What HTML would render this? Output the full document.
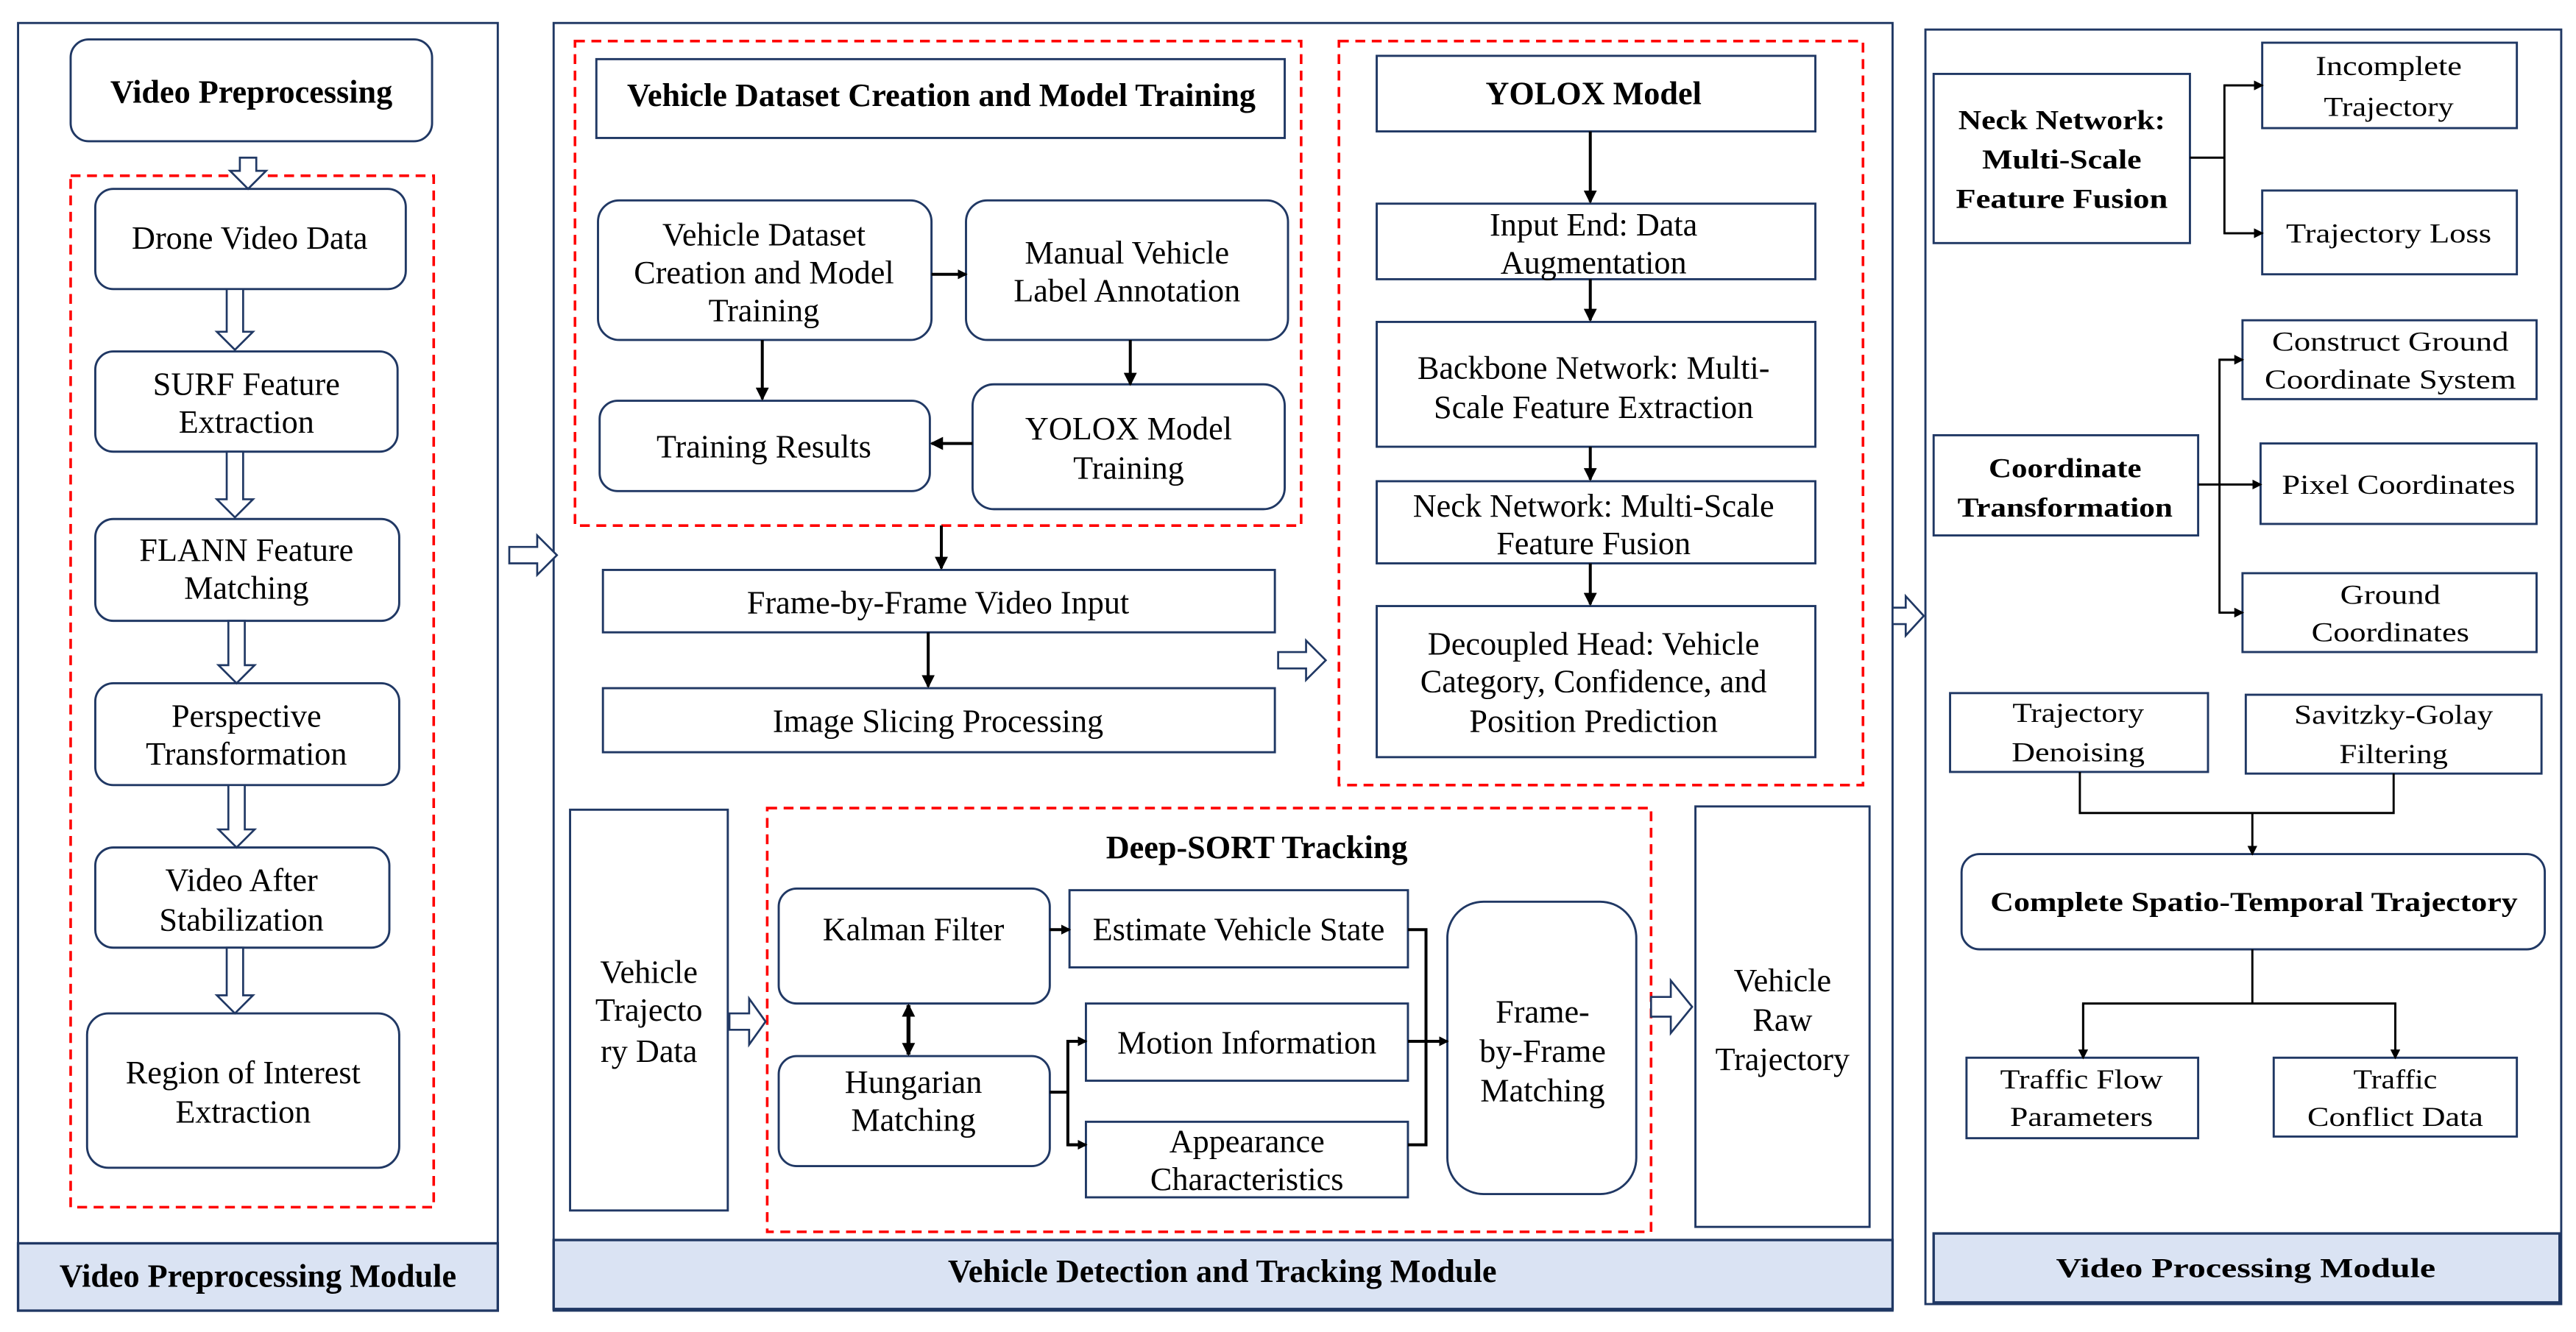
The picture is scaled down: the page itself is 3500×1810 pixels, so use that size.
<!DOCTYPE html>
<html><head><meta charset="utf-8"><style>
html,body{margin:0;padding:0;background:#fff;}
svg{display:block;}
text{font-family:"Liberation Serif",serif;fill:#000;}
</style></head><body>
<svg width="3500" height="1810" viewBox="0 0 1568 811" preserveAspectRatio="none" xmlns="http://www.w3.org/2000/svg">
<defs>
<marker id="ah" markerWidth="6" markerHeight="6" refX="5" refY="3" orient="auto" markerUnits="userSpaceOnUse"><path d="M0,0 L6,3 L0,6 z" fill="#000"/></marker>
<marker id="ah2" markerWidth="8" markerHeight="8" refX="7" refY="4" orient="auto" markerUnits="userSpaceOnUse"><path d="M0,0 L8,4 L0,8 z" fill="#000"/></marker>
<marker id="ahs" markerWidth="8" markerHeight="8" refX="1" refY="4" orient="auto" markerUnits="userSpaceOnUse"><path d="M8,0 L0,4 L8,8 z" fill="#000"/></marker>
</defs>
<g fill="none" stroke="#203864" stroke-width="1.3">
<rect x="11" y="14" width="292" height="784"/>
<rect x="337" y="14" width="815" height="784"/>
<rect x="1172" y="18" width="387" height="776"/>
</g>
<g fill="#dae3f3" stroke="#203864" stroke-width="1.5">
<rect x="11" y="757" width="292" height="41"/>
<rect x="337" y="755" width="815" height="42"/>
<rect x="1177" y="751" width="381" height="42"/>
</g>
<g fill="none" stroke="#ff0000" stroke-width="1.6" stroke-dasharray="6,4">
<rect x="43" y="107" width="221" height="628"/>
<rect x="350" y="25" width="442" height="295"/>
<rect x="815" y="25" width="319" height="453"/>
<rect x="467" y="492" width="538" height="258"/>
</g>
<g fill="#fff" stroke="#203864" stroke-width="1.3">
<rect x="43" y="24" width="220" height="62" rx="11"/>
<rect x="58" y="115" width="189" height="61" rx="11"/>
<rect x="58" y="214" width="184" height="61" rx="11"/>
<rect x="58" y="316" width="185" height="62" rx="11"/>
<rect x="58" y="416" width="185" height="62" rx="11"/>
<rect x="58" y="516" width="179" height="61" rx="11"/>
<rect x="53" y="617" width="190" height="94" rx="13"/>
<rect x="363" y="36" width="419" height="48"/>
<rect x="364" y="122" width="203" height="85" rx="13"/>
<rect x="588" y="122" width="196" height="85" rx="13"/>
<rect x="365" y="244" width="201" height="55" rx="11"/>
<rect x="592" y="234" width="190" height="76" rx="13"/>
<rect x="367" y="347" width="409" height="38"/>
<rect x="367" y="419" width="409" height="39"/>
<rect x="838" y="34" width="267" height="46"/>
<rect x="838" y="124" width="267" height="46"/>
<rect x="838" y="196" width="267" height="76"/>
<rect x="838" y="293" width="267" height="50"/>
<rect x="838" y="369" width="267" height="92"/>
<rect x="347" y="493" width="96" height="244"/>
<rect x="474" y="541" width="165" height="70" rx="11"/>
<rect x="651" y="542" width="206" height="47"/>
<rect x="474" y="643" width="165" height="67" rx="11"/>
<rect x="661" y="611" width="196" height="47"/>
<rect x="661" y="683" width="196" height="46"/>
<rect x="881" y="549" width="115" height="178" rx="22"/>
<rect x="1032" y="491" width="106" height="256"/>
<rect x="1177" y="45" width="156" height="103"/>
<rect x="1377" y="26" width="155" height="52"/>
<rect x="1377" y="116" width="155" height="51"/>
<rect x="1365" y="195" width="179" height="48"/>
<rect x="1177" y="265" width="161" height="61"/>
<rect x="1376" y="270" width="168" height="49"/>
<rect x="1365" y="349" width="179" height="48"/>
<rect x="1187" y="422" width="157" height="48"/>
<rect x="1367" y="423" width="180" height="48"/>
<rect x="1194" y="520" width="355" height="58" rx="11"/>
<rect x="1197" y="644" width="141" height="49"/>
<rect x="1384" y="644" width="148" height="48"/>
</g>
<g fill="#fff" stroke="#203864" stroke-width="1.2">
<path d="M146,96 h10 v8 h6 l-11,11 l-11,-11 h6 z"/>
<path d="M138,176 h10 v26 h6 l-11,11 l-11,-11 h6 z"/>
<path d="M138,275 h10 v29 h6 l-11,11 l-11,-11 h6 z"/>
<path d="M139,378 h10 v27 h6 l-11,11 l-11,-11 h6 z"/>
<path d="M139,478 h10 v27 h6 l-11,11 l-11,-11 h6 z"/>
<path d="M138,577 h10 v29 h6 l-11,11 l-11,-11 h6 z"/>
<path d="M310,333 h17 v-7 l12,12 l-12,12 v-7 h-17 z"/>
<path d="M778,397 h17 v-7 l12,12 l-12,12 v-7 h-17 z"/>
<path d="M1152,370 h8 v-7 l11,12 l-11,12 v-7 h-8 z"/>
<path d="M444,617 h12 v-9 l10,14 l-10,14 v-9 h-12 z"/>
<path d="M1005,607 h12 v-10 l13,16 l-13,16 v-10 h-12 z"/>
</g>
<g fill="none" stroke="#000" stroke-width="1.8">
<line x1="567" y1="167" x2="588" y2="167" marker-end="url(#ah)"/>
<line x1="464" y1="207" x2="464" y2="243" marker-end="url(#ah2)"/>
<line x1="688" y1="207" x2="688" y2="234" marker-end="url(#ah2)"/>
<line x1="592" y1="270" x2="567" y2="270" marker-end="url(#ah2)"/>
<line x1="573" y1="320" x2="573" y2="346" marker-end="url(#ah2)"/>
<line x1="565" y1="385" x2="565" y2="418" marker-end="url(#ah2)"/>
<line x1="968" y1="80" x2="968" y2="123" marker-end="url(#ah2)"/>
<line x1="968" y1="170" x2="968" y2="195" marker-end="url(#ah2)"/>
<line x1="968" y1="272" x2="968" y2="292" marker-end="url(#ah2)"/>
<line x1="968" y1="343" x2="968" y2="368" marker-end="url(#ah2)"/>
<line x1="639" y1="566" x2="651" y2="566" marker-end="url(#ah)"/>
<line x1="553" y1="612" x2="553" y2="642" stroke-width="2.4" marker-start="url(#ahs)" marker-end="url(#ah2)"/>
<polyline points="639,665 650,665"/>
<polyline points="661,634 650,634 650,697 661,697"/>
<line x1="650" y1="634" x2="661" y2="634" marker-end="url(#ah)"/>
<line x1="650" y1="697" x2="661" y2="697" marker-end="url(#ah)"/>
<polyline points="857,566 868,566 868,697 857,697"/>
<line x1="857" y1="634" x2="868" y2="634"/>
<line x1="868" y1="634" x2="881" y2="634" marker-end="url(#ah)"/>
</g>
<g fill="none" stroke="#000" stroke-width="1.3">
<line x1="1333" y1="96" x2="1354" y2="96"/>
<polyline points="1377,52 1354,52 1354,142 1377,142"/>
<line x1="1354" y1="52" x2="1377" y2="52" marker-end="url(#ah)"/>
<line x1="1354" y1="142" x2="1377" y2="142" marker-end="url(#ah)"/>
<line x1="1338" y1="295" x2="1351" y2="295"/>
<polyline points="1365,219 1351,219 1351,373 1365,373"/>
<line x1="1351" y1="219" x2="1365" y2="219" marker-end="url(#ah)"/>
<line x1="1351" y1="295" x2="1376" y2="295" marker-end="url(#ah)"/>
<line x1="1351" y1="373" x2="1365" y2="373" marker-end="url(#ah)"/>
<polyline points="1266,470 1266,495 1457,495 1457,471"/>
<line x1="1371" y1="495" x2="1371" y2="520" marker-end="url(#ah)"/>
<line x1="1371" y1="578" x2="1371" y2="611"/>
<polyline points="1268,644 1268,611 1458,611 1458,644"/>
<line x1="1268" y1="611" x2="1268" y2="644" marker-end="url(#ah)"/>
<line x1="1458" y1="611" x2="1458" y2="644" marker-end="url(#ah)"/>
</g>
<g font-size="19.8" text-anchor="middle" dominant-baseline="central">
<text x="153" y="56" font-weight="bold">Video Preprocessing</text>
<text x="152" y="145">Drone Video Data</text>
<text x="150" y="234">SURF Feature</text><text x="150" y="257">Extraction</text>
<text x="150" y="335">FLANN Feature</text><text x="150" y="358">Matching</text>
<text x="150" y="436">Perspective</text><text x="150" y="459">Transformation</text>
<text x="147" y="536">Video After</text><text x="147" y="560">Stabilization</text>
<text x="148" y="653">Region of Interest</text><text x="148" y="677">Extraction</text>
<text x="157" y="777" font-weight="bold">Video Preprocessing Module</text>
<text x="573" y="58" font-weight="bold">Vehicle Dataset Creation and Model Training</text>
<text x="465" y="143">Vehicle Dataset</text><text x="465" y="166">Creation and Model</text><text x="465" y="189">Training</text>
<text x="686" y="154">Manual Vehicle</text><text x="686" y="177">Label Annotation</text>
<text x="465" y="272">Training Results</text>
<text x="687" y="261">YOLOX Model</text><text x="687" y="285">Training</text>
<text x="571" y="367">Frame-by-Frame Video Input</text>
<text x="571" y="439">Image Slicing Processing</text>
<text x="970" y="57" font-weight="bold">YOLOX Model</text>
<text x="970" y="137">Input End: Data</text><text x="970" y="160">Augmentation</text>
<text x="970" y="224">Backbone Network: Multi-</text><text x="970" y="248">Scale Feature Extraction</text>
<text x="970" y="308">Neck Network: Multi-Scale</text><text x="970" y="331">Feature Fusion</text>
<text x="970" y="392">Decoupled Head: Vehicle</text><text x="970" y="415">Category, Confidence, and</text><text x="970" y="439">Position Prediction</text>
<text x="744" y="774" font-weight="bold">Vehicle Detection and Tracking Module</text>
<text x="395" y="592">Vehicle</text><text x="395" y="615">Trajecto</text><text x="395" y="640">ry Data</text>
<text x="765" y="516" font-weight="bold">Deep-SORT Tracking</text>
<text x="556" y="566">Kalman Filter</text>
<text x="754" y="566">Estimate Vehicle State</text>
<text x="556" y="659">Hungarian</text><text x="556" y="682">Matching</text>
<text x="759" y="635">Motion Information</text>
<text x="759" y="695">Appearance</text><text x="759" y="718">Characteristics</text>
<text x="939" y="616">Frame-</text><text x="939" y="640">by-Frame</text><text x="939" y="664">Matching</text>
<text x="1085" y="597">Vehicle</text><text x="1085" y="621">Raw</text><text x="1085" y="645">Trajectory</text>
</g>
<g font-size="16.5" text-anchor="middle" dominant-baseline="central">
<text x="1255" y="73" font-weight="bold" textLength="126" lengthAdjust="spacingAndGlyphs">Neck Network:</text>
<text x="1255" y="97" font-weight="bold" textLength="97" lengthAdjust="spacingAndGlyphs">Multi-Scale</text>
<text x="1255" y="121" font-weight="bold" textLength="129" lengthAdjust="spacingAndGlyphs">Feature Fusion</text>
<text x="1454" y="40" textLength="89" lengthAdjust="spacingAndGlyphs">Incomplete</text>
<text x="1454" y="65" textLength="79" lengthAdjust="spacingAndGlyphs">Trajectory</text>
<text x="1454" y="142" textLength="125" lengthAdjust="spacingAndGlyphs">Trajectory Loss</text>
<text x="1455" y="208" textLength="144" lengthAdjust="spacingAndGlyphs">Construct Ground</text>
<text x="1455" y="231" textLength="153" lengthAdjust="spacingAndGlyphs">Coordinate System</text>
<text x="1257" y="285" font-weight="bold" textLength="93" lengthAdjust="spacingAndGlyphs">Coordinate</text>
<text x="1257" y="309" font-weight="bold" textLength="131" lengthAdjust="spacingAndGlyphs">Transformation</text>
<text x="1460" y="295" textLength="142" lengthAdjust="spacingAndGlyphs">Pixel Coordinates</text>
<text x="1455" y="362" textLength="61" lengthAdjust="spacingAndGlyphs">Ground</text>
<text x="1455" y="385" textLength="96" lengthAdjust="spacingAndGlyphs">Coordinates</text>
<text x="1265" y="434" textLength="80" lengthAdjust="spacingAndGlyphs">Trajectory</text>
<text x="1265" y="458" textLength="81" lengthAdjust="spacingAndGlyphs">Denoising</text>
<text x="1457" y="435" textLength="121" lengthAdjust="spacingAndGlyphs">Savitzky-Golay</text>
<text x="1457" y="459" textLength="66" lengthAdjust="spacingAndGlyphs">Filtering</text>
<text x="1372" y="549" font-weight="bold" textLength="321" lengthAdjust="spacingAndGlyphs">Complete Spatio-Temporal Trajectory</text>
<text x="1267" y="657" textLength="99" lengthAdjust="spacingAndGlyphs">Traffic Flow</text>
<text x="1267" y="680" textLength="87" lengthAdjust="spacingAndGlyphs">Parameters</text>
<text x="1458" y="657" textLength="51" lengthAdjust="spacingAndGlyphs">Traffic</text>
<text x="1458" y="680" textLength="107" lengthAdjust="spacingAndGlyphs">Conflict Data</text>
<text x="1367" y="772" font-weight="bold" textLength="231" lengthAdjust="spacingAndGlyphs">Video Processing Module</text>
</g>
</svg>
</body></html>
